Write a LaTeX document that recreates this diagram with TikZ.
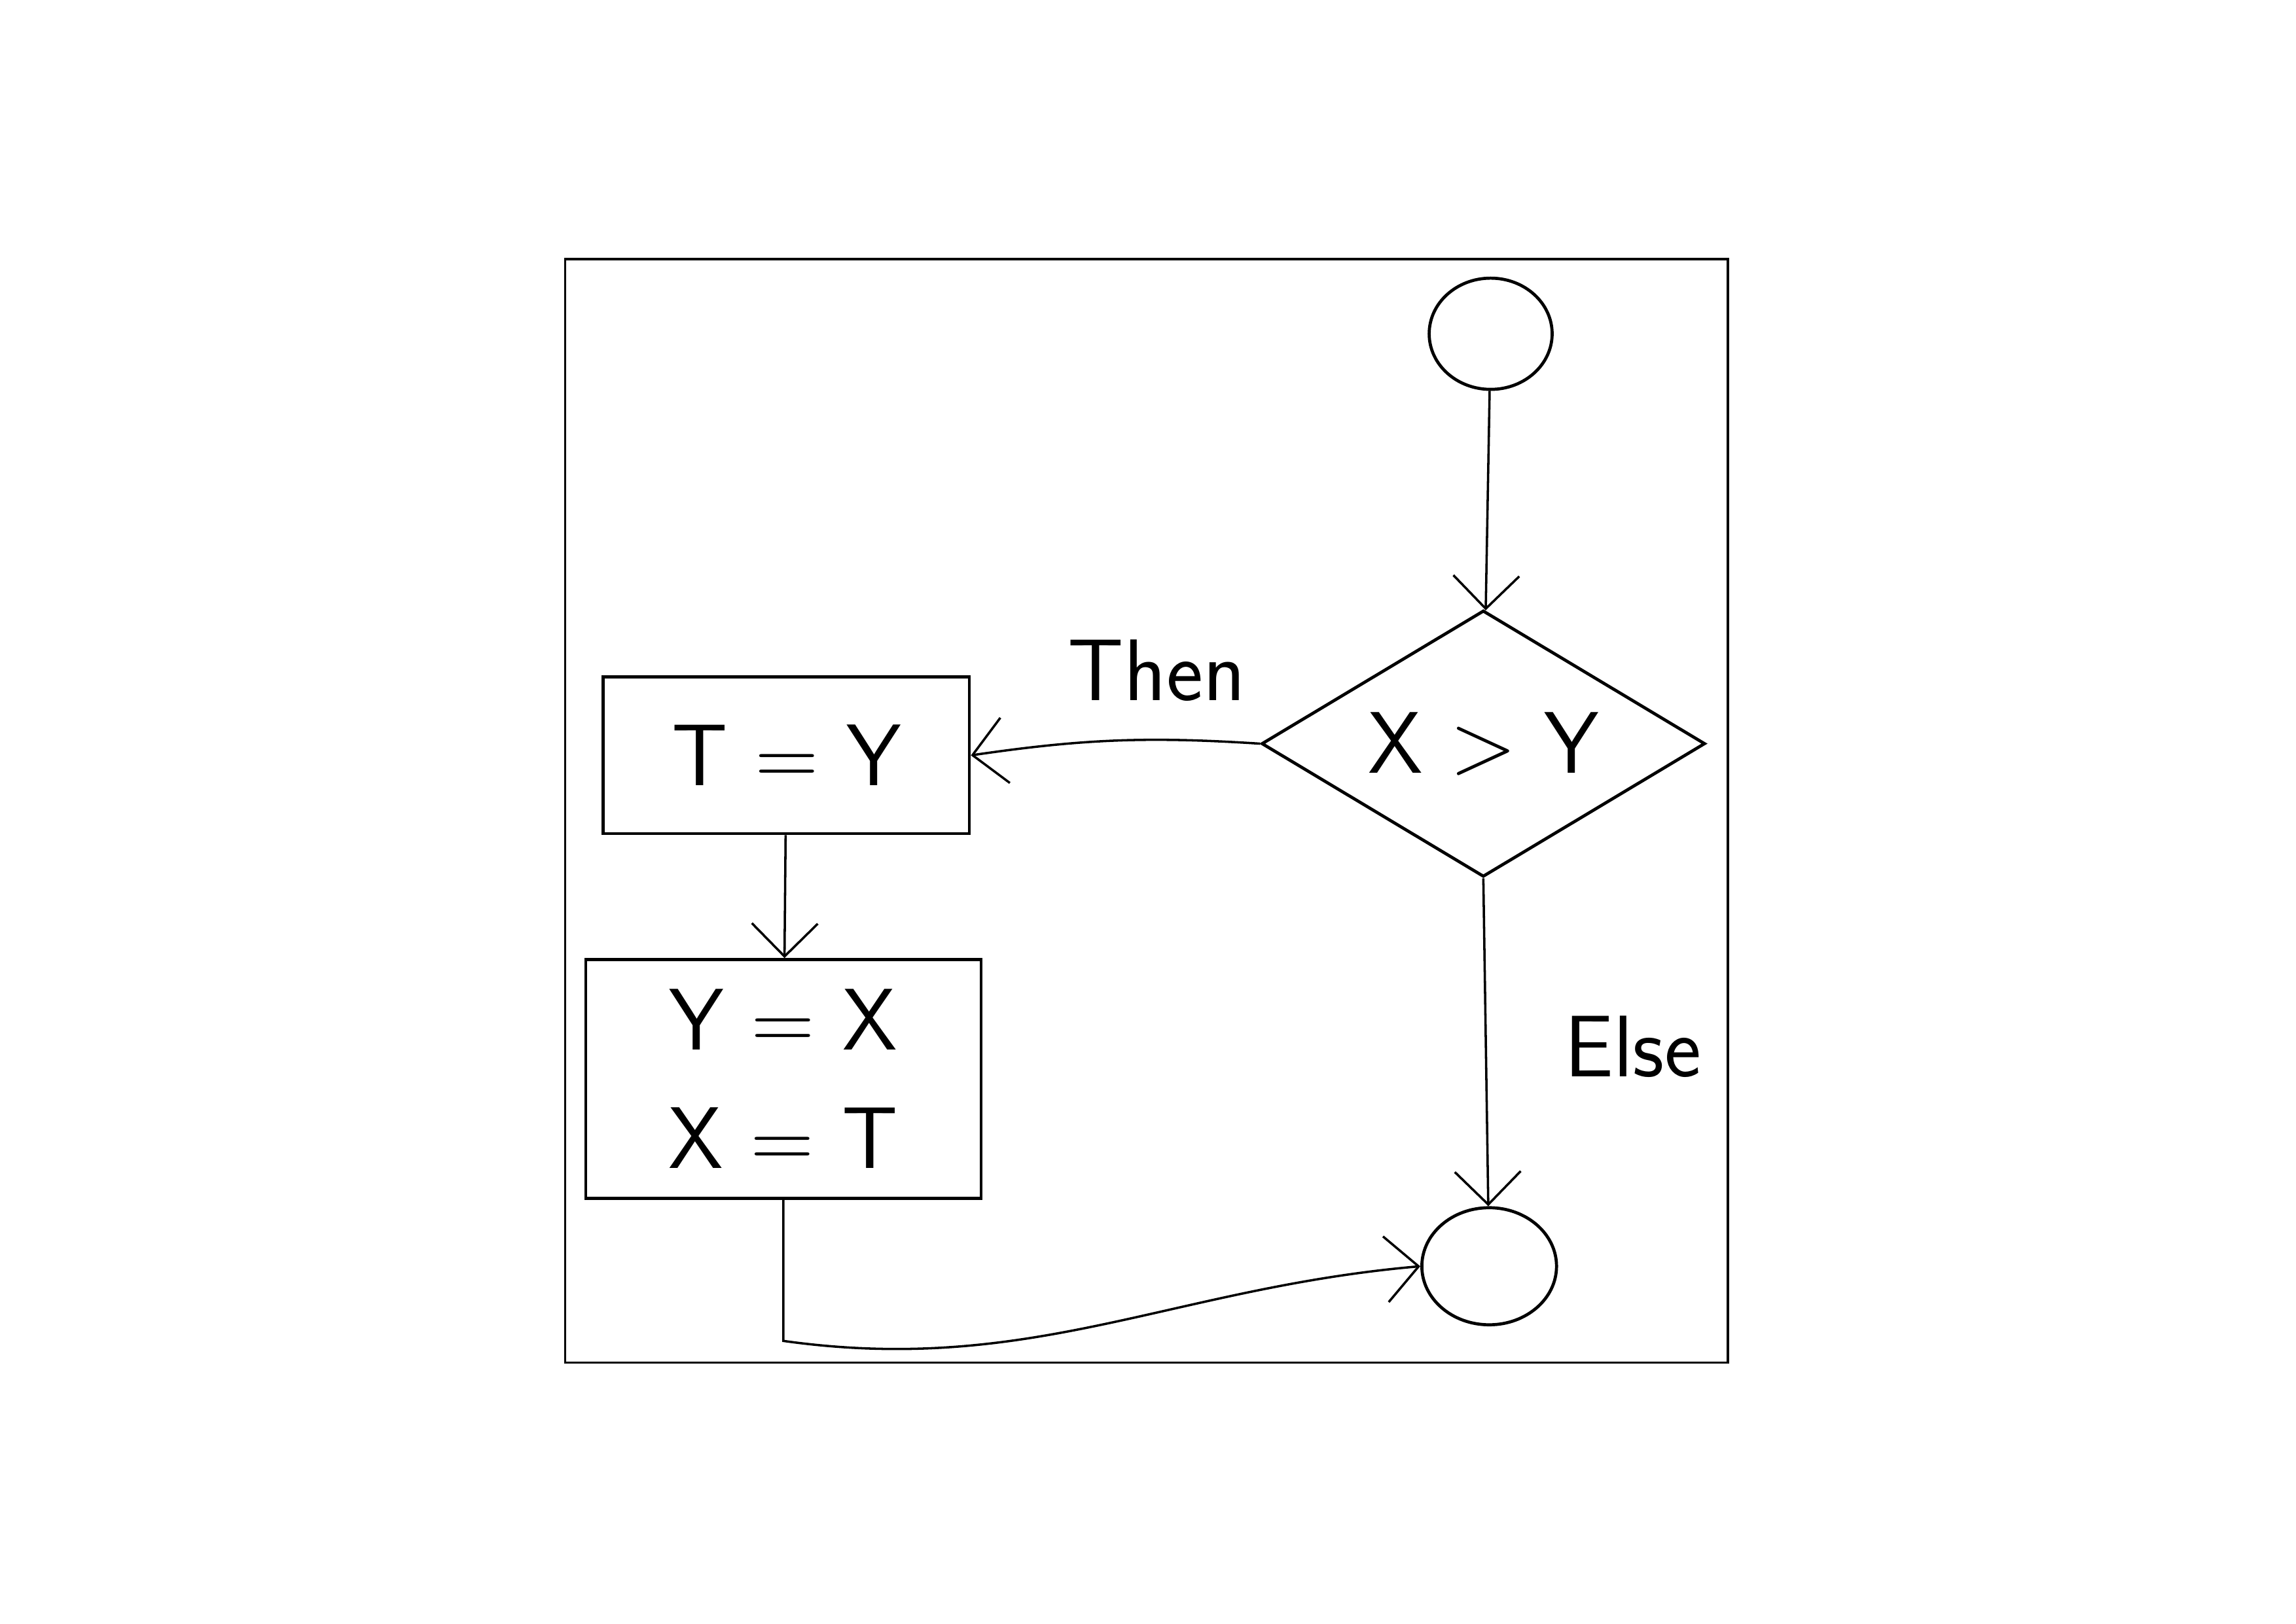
\documentclass[tikz,border=0pt]{standalone}
\usepackage{fontspec}
\usepackage{tikz}
\usetikzlibrary{arrows.meta,positioning,shapes.geometric}
\tikzset{
  box/.style={draw,line width=1.2pt,rectangle,inner sep=0pt},
  term/.style={draw,line width=1.2pt,ellipse,inner sep=0pt},
  flow/.style={line width=0.9pt,-{Straight Barb[length=4.5mm,width=9mm]}},
  hand/.style={font=\sffamily\fontsize{34}{46}\selectfont}
}

\begin{document}
\begin{tikzpicture}[x=0.02cm,y=-0.02cm]
    \useasboundingbox (0,0) rectangle (1568,1109);
    \draw[line width=0.8pt] (386,177) rectangle (1180,931);
    % nodes
    \node[term,minimum width=1.68cm,minimum height=1.52cm] (start) at (1018,228) {};
    \node[box,diamond,aspect=1.66,minimum width=6.06cm,minimum height=3.64cm,hand] (decide) at (1013,508) {X > Y};
    \node[box,minimum width=5cm,minimum height=2.14cm,hand] (swapa) at (537,516) {T = Y};
    \node[box,minimum width=5.4cm,minimum height=3.26cm,hand,align=center] (swapb) at (535,737) {Y = X\\X = T};
    \node[term,minimum width=1.84cm,minimum height=1.6cm] (stop) at (1017,865) {};
    \node[hand] (thenlbl) at (790,458) {Then};
    \node[hand] (elselbl) at (1115,715) {Else};
    \coordinate (corner) at (535,916);
    % connectors
    \draw[flow] (start) -- (decide);
    \draw[flow] (decide.west) to[bend right=6] (swapa.east);
    \draw[flow] (swapa) -- (swapb);
    \draw[flow] (decide.south) -- (stop);
    \draw[flow] (swapb.south) -- (corner) to[out=-8,in=185] (stop.west);
\end{tikzpicture}
\end{document}
